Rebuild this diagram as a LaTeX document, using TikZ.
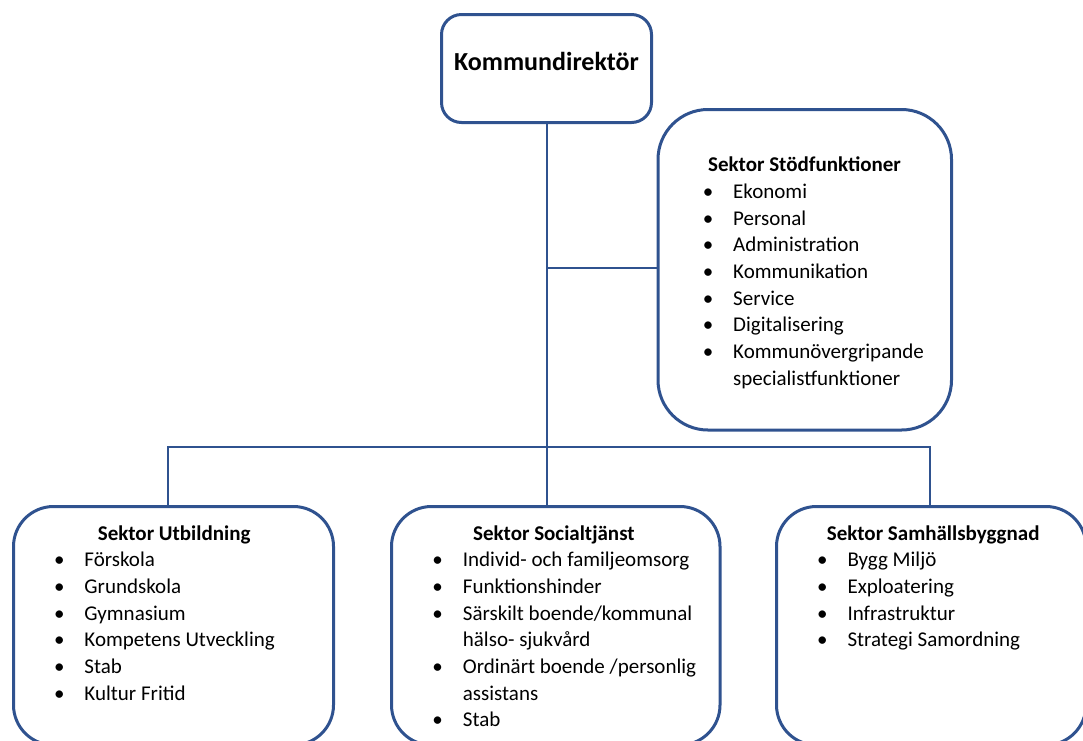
\documentclass[tikz,border=0pt]{standalone}
\usepackage{fontspec}
\setmainfont{Carlito}
\usepackage{tikz}
\definecolor{orgblue}{HTML}{2F528F}
\newcommand{\bul}{\llap{\textbullet\hspace*{20pt}}}

\begin{document}
\begin{tikzpicture}[x=1pt,y=-1pt,
    box/.style={draw=orgblue,line width=3pt,inner sep=0pt},
    conn/.style={draw=orgblue,line width=2pt},
    head/.style={anchor=base west,inner sep=0pt,font=\fontsize{21}{26.7}\selectfont\bfseries},
    lst/.style={anchor=base west,inner sep=0pt,align=left,font=\fontsize{21}{26.7}\selectfont}]
            \useasboundingbox (0,0) rectangle (1083,740);
            \node[box,rounded corners=20pt,minimum width=210pt,minimum height=108pt] (kd) at (546.5,68.5) {};
            \node[anchor=base,inner sep=0pt,font=\fontsize{26}{30}\selectfont\bfseries] (kdt) at (546.5,70) {Kommundirektör};
            \node[box,rounded corners=50pt,minimum width=293.5pt,minimum height=320.5pt] (stod) at (804.75,269.75) {};
            \node[box,rounded corners=40pt,minimum width=320pt,minimum height=238.5pt] (utb) at (173.5,625.75) {};
            \node[box,rounded corners=40pt,minimum width=328.5pt,minimum height=238.5pt] (soc) at (555.75,625.75) {};
            \node[box,rounded corners=40pt,minimum width=309.5pt,minimum height=238.5pt] (samh) at (931.25,625.75) {};
            \node[head] (stodh) at (708,171) {Sektor Stödfunktioner};
            \node[lst] (stodl) at (733,385.2) {\bul Ekonomi\\ \bul Personal\\ \bul Administration\\ \bul Kommunikation\\ \bul Service\\ \bul Digitalisering\\ \bul Kommunövergripande\\ specialistfunktioner};
            \node[head] (utbh) at (97.7,540.5) {Sektor Utbildning};
            \node[lst] (utbl) at (84.3,700.2) {\bul Förskola\\ \bul Grundskola\\ \bul Gymnasium\\ \bul Kompetens Utveckling\\ \bul Stab\\ \bul Kultur Fritid};
            \node[head] (soch) at (473,540) {Sektor Socialtjänst};
            \node[lst] (socl) at (462.7,726.9) {\bul Individ- och familjeomsorg\\ \bul Funktionshinder\\ \bul Särskilt boende/kommunal\\ hälso- sjukvård\\ \bul Ordinärt boende /personlig\\ assistans\\ \bul Stab};
            \node[head] (samhh) at (826.7,540) {Sektor Samhällsbyggnad};
            \node[lst] (samhl) at (847.3,646.8) {\bul Bygg Miljö\\ \bul Exploatering\\ \bul Infrastruktur\\ \bul Strategi Samordning};
            \coordinate (bus) at (0,447.3);
            \draw[conn] (kd.south) -- (kd.south |- soc.north);
            \draw[conn] (kd.south |- 0,268.3) -- (stod.west |- 0,268.3);
            \draw[conn] ([xshift=-5.5pt]utb.north) -- ([xshift=-5.5pt]utb.north |- bus) -- ([xshift=-1pt]samh.north |- bus) -- ([xshift=-1pt]samh.north);
        \end{tikzpicture}
\end{document}
